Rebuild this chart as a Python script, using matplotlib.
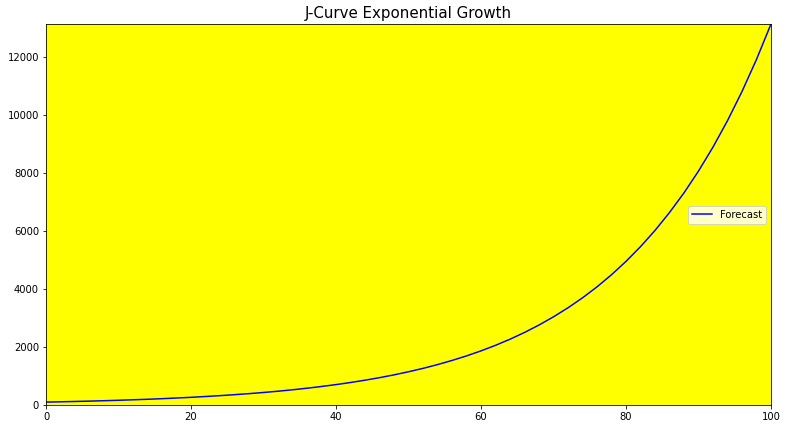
import matplotlib
matplotlib.use("Agg")
import matplotlib.pyplot as plt

x_values = [0, 2, 4, 6, 8, 10, 12, 14, 16, 18, 20, 22, 24, 26, 28, 30, 32, 34, 36, 38,
            40, 42, 44, 46, 48, 50, 52, 54, 56, 58, 60, 62, 64, 66, 68, 70, 72, 74, 76, 78,
            80, 82, 84, 86, 88, 90, 92, 94, 96, 98, 100]
forecast = [100, 110, 122, 134, 148, 163, 180, 198, 218, 241, 265, 293, 323, 356, 392, 432,
            476, 525, 579, 639, 704, 776, 856, 943, 1040, 1147, 1264, 1394, 1537, 1694, 1868,
            2059, 2270, 2503, 2760, 3043, 3355, 3698, 4077, 4495, 4956, 5464, 6024, 6642, 7322,
            8073, 8901, 9813, 10819, 11927, 13150]
series_label = "Forecast"
title = "J-Curve Exponential Growth"

fig = plt.figure(figsize=(788 / 72, 429 / 72), dpi=72)
ax = fig.add_axes([46 / 788, 1 - 405 / 429, (771 - 46) / 788, (405 - 24) / 429])
ax.set_facecolor("yellow")
ax.plot(x_values, forecast, color="blue", linewidth=1.5, label=series_label)
ax.set_xlim(min(x_values), max(x_values))
ax.set_ylim(0, max(forecast))
ax.set_title(title, fontsize=15)
ax.tick_params(labelsize=10)
ax.legend(loc="center right", fontsize=10)
fig.savefig("out.png", dpi=72)
